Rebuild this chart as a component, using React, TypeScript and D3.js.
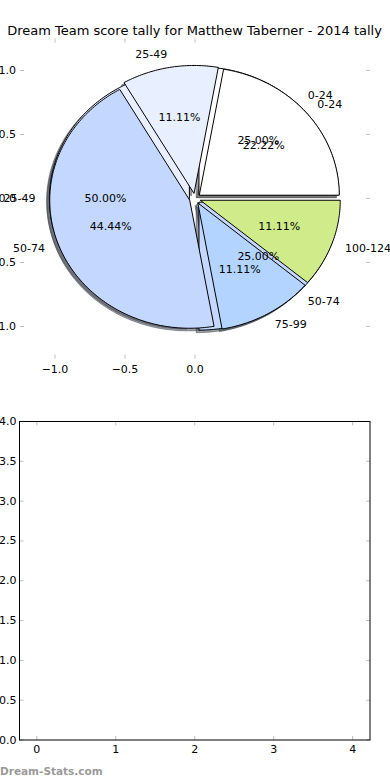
import * as d3 from "d3";

// chart text + values
const TITLE = "Dream Team score tally for Matthew Taberner - 2014 tally";
const WATERMARK = "Dream-Stats.com";

// first pie (drawn underneath)
const firstLabels = ["0-24", "25-49", "50-74"];
const firstValues = [1, 2, 1];

// second pie (drawn on top)
const secondLabels = ["0-24", "25-49", "50-74", "75-99", "100-124"];
const secondValues = [2, 1, 4, 1, 1];

// tick values
const pieXTicks = [-1.0, -0.5, 0.0];
const pieYTicks = [1.0, 0.5, 0.0, -0.5, -1.0];
const emptyXTicks = [0, 1, 2, 3, 4];
const emptyYTicks = [0, 0.5, 1, 1.5, 2, 2.5, 3, 3.5, 4];

const COLORS: Record<string, string> = {
  "0-24": "#ffffff",
  "25-49": "#e8f0ff",
  "50-74": "#c4d8ff",
  "75-99": "#b3d4ff",
  "100-124": "#cfeb8a",
};

const FONT = "DejaVu Sans, sans-serif";
const TICK = "#bfbfbf";

function shade(hex: string) {
  const c = d3.rgb(hex);
  return `rgba(${c.r * 0.3},${c.g * 0.3},${c.b * 0.3},0.5)`;
}

export default function App() {
  const W = 390;
  const H = 780;

  // top (pie) axes
  const x = d3.scaleLinear().domain([-1.25, 1.25]).range([20, 370]);
  const y = d3.scaleLinear().domain([-1.25, 1.25]).range([358.5, 38.5]);

  // bottom (empty) axes
  const bx = d3.scaleLinear().domain([-0.22, 4.22]).range([19.5, 370]);
  const by = d3.scaleLinear().domain([0, 4]).range([740, 421.5]);

  const explode = 0.04;
  const labelDist = 1.1;
  const pctDist = 0.6;
  const fmt = d3.format(".1f");

  const pie = d3
    .pie<number>()
    .sort(null)
    .startAngle(0)
    .endAngle(2 * Math.PI);
  const line = d3.line<[number, number]>();

  const wedgePath = (a0: number, a1: number, cx: number, cy: number) => {
    const pts: [number, number][] = [[x(cx), y(cy)]];
    const n = Math.max(2, Math.ceil((a1 - a0) / (Math.PI / 180)));
    for (let i = 0; i <= n; i++) {
      const t = a0 + ((a1 - a0) * i) / n;
      pts.push([x(cx + Math.cos(t)), y(cy + Math.sin(t))]);
    }
    return line(pts) + "Z";
  };

  const buildPie = (labels: string[], values: number[]) => {
    const total = d3.sum(values);
    return pie(values).map((d, i) => {
      const mid = (d.startAngle + d.endAngle) / 2;
      const cx = explode * Math.cos(mid);
      const cy = explode * Math.sin(mid);
      return {
        label: labels[i],
        color: COLORS[labels[i]],
        path: wedgePath(d.startAngle, d.endAngle, cx, cy),
        shadow: wedgePath(d.startAngle, d.endAngle, cx - 0.02, cy - 0.02),
        lx: x(cx + labelDist * Math.cos(mid)),
        ly: y(cy + labelDist * Math.sin(mid)),
        anchor: Math.cos(mid) > 0 ? "start" : "end",
        px: x(cx + pctDist * Math.cos(mid)),
        py: y(cy + pctDist * Math.sin(mid)),
        pct: ((values[i] / total) * 100).toFixed(2) + "%",
      };
    });
  };

  const pie1 = buildPie(firstLabels, firstValues);
  const pie2 = buildPie(secondLabels, secondValues);
  const all = [...pie1, ...pie2];

  const [xl, xr] = x.range();
  const [yb, yt] = y.range();
  const [bxl, bxr] = bx.range();
  const [byb, byt] = by.range();

  return (
    <svg
      width={W}
      height={H}
      style={{ position: "absolute", left: 0, top: 0, background: "#fff" }}
      fontFamily={FONT}
    >
      <text x={194.5} y={35} textAnchor="middle" fontSize={13}>
        {TITLE}
      </text>

      {/* top axes ticks (frame off) */}
      <g stroke={TICK} strokeWidth={1}>
        {pieXTicks.map((t) => (
          <g key={"px" + t}>
            <line x1={x(t)} x2={x(t)} y1={yt} y2={yt + 4} />
            <line x1={x(t)} x2={x(t)} y1={yb} y2={yb - 4} />
          </g>
        ))}
        {pieYTicks.map((t) => (
          <g key={"py" + t}>
            <line x1={xl} x2={xl + 4} y1={y(t)} y2={y(t)} />
            <line x1={xr} x2={xr - 4} y1={y(t)} y2={y(t)} />
          </g>
        ))}
      </g>
      <g fontSize={11}>
        {pieXTicks.map((t) => (
          <text key={"pxl" + t} x={x(t)} y={yb + 11} textAnchor="middle" dominantBaseline="central">
            {fmt(t)}
          </text>
        ))}
        {pieYTicks.map((t) => (
          <text key={"pyl" + t} x={xl - 4} y={y(t)} textAnchor="end" dominantBaseline="central">
            {fmt(t)}
          </text>
        ))}
      </g>

      {/* shadows */}
      {all.map((d, i) => (
        <path key={"s" + i} d={d.shadow} fill={shade(d.color)} stroke={shade(d.color)} strokeWidth={1} />
      ))}
      {/* wedges */}
      {all.map((d, i) => (
        <path key={"w" + i} d={d.path} fill={d.color} stroke="#000" strokeWidth={1} strokeLinejoin="round" />
      ))}
      {/* labels */}
      <g fontSize={11}>
        {all.map((d, i) => (
          <g key={"t" + i}>
            <text x={d.lx} y={d.ly} textAnchor={d.anchor} dominantBaseline="central">
              {d.label}
            </text>
            <text x={d.px} y={d.py} textAnchor="middle" dominantBaseline="central">
              {d.pct}
            </text>
          </g>
        ))}
      </g>

      {/* bottom empty axes */}
      <g stroke={TICK} strokeWidth={1}>
        {emptyXTicks.map((t) => (
          <g key={"bx" + t}>
            <line x1={bx(t)} x2={bx(t)} y1={byt} y2={byt + 4} />
            <line x1={bx(t)} x2={bx(t)} y1={byb} y2={byb - 4} />
          </g>
        ))}
        {emptyYTicks.map((t) => (
          <g key={"by" + t}>
            <line x1={bxl} x2={bxl + 4} y1={by(t)} y2={by(t)} />
            <line x1={bxr} x2={bxr - 4} y1={by(t)} y2={by(t)} />
          </g>
        ))}
      </g>
      <rect x={bxl} y={byt} width={bxr - bxl} height={byb - byt} fill="none" stroke="#000" strokeWidth={1} />
      <g fontSize={11}>
        {emptyXTicks.map((t) => (
          <text key={"bxl" + t} x={bx(t)} y={byb + 9} textAnchor="middle" dominantBaseline="central">
            {t}
          </text>
        ))}
        {emptyYTicks.map((t) => (
          <text key={"byl" + t} x={bxl - 3} y={by(t)} textAnchor="end" dominantBaseline="central">
            {fmt(t)}
          </text>
        ))}
      </g>

      <text x={0} y={775} fontSize={10.5} fontWeight="bold" fill="#9a9a9a">
        {WATERMARK}
      </text>
    </svg>
  );
}
